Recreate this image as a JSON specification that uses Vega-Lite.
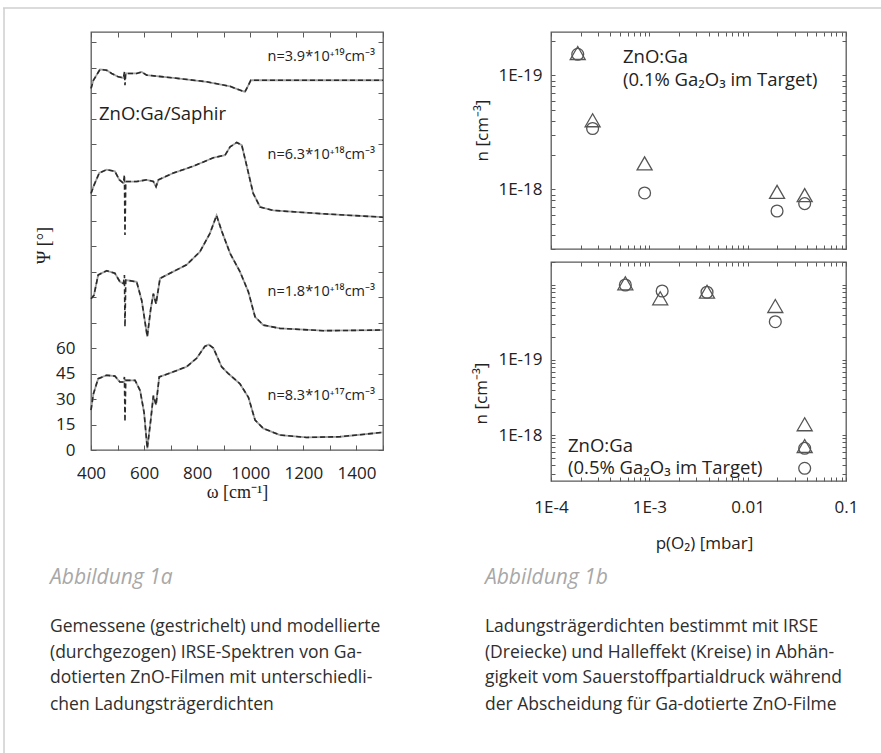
{
  "$schema": "https://vega.github.io/schema/vega-lite/v6.json",
  "autosize": {"type": "none"},
  "padding": {"left": 91, "top": 32, "right": 790, "bottom": 721},
  "background": "white",
  "config": {
    "view": {"stroke": "#5a5a5a", "strokeWidth": 1.3},
    "axis": {"domain": false, "grid": false, "tickColor": "#5a5a5a", "tickWidth": 1, "labelFont": "Open Sans", "labelFontSize": 17, "labelColor": "#222", "labelFlush": false, "titleFont": "Open Sans", "titleFontSize": 17, "titleFontWeight": "normal", "titleColor": "#222"},
    "text": {"font": "Open Sans", "color": "#222"}
  },
  "datasets": {
    "spec": [
      {"c": 1, "w": 400, "p": 212.7}, {"c": 1, "w": 409, "p": 217.6}, {"c": 1, "w": 434, "p": 224}, {"c": 1, "w": 459, "p": 223.5}, {"c": 1, "w": 478, "p": 221.6}, {"c": 1, "w": 503, "p": 219.6}, {"c": 1, "w": 522, "p": 219}, {"c": 1, "w": 526, "p": 222.5, "s": 1}, {"c": 1, "w": 528, "p": 214.7, "s": 1}, {"c": 1, "w": 531, "p": 221.6}, {"c": 1, "w": 572, "p": 221.6}, {"c": 1, "w": 591, "p": 222.5}, {"c": 1, "w": 610, "p": 220.6}, {"c": 1, "w": 710, "p": 219}, {"c": 1, "w": 836, "p": 216.7}, {"c": 1, "w": 924, "p": 214}, {"c": 1, "w": 961, "p": 211.8}, {"c": 1, "w": 980, "p": 210.8}, {"c": 1, "w": 993, "p": 214.7}, {"c": 1, "w": 1002, "p": 217.6}, {"c": 1, "w": 1087, "p": 217.6}, {"c": 1, "w": 1500, "p": 217.6},
      {"c": 2, "w": 400, "p": 151}, {"c": 2, "w": 409, "p": 155}, {"c": 2, "w": 431, "p": 163}, {"c": 2, "w": 459, "p": 165}, {"c": 2, "w": 490, "p": 164}, {"c": 2, "w": 507, "p": 159}, {"c": 2, "w": 522, "p": 157}, {"c": 2, "w": 526, "p": 162, "s": 1}, {"c": 2, "w": 528, "p": 126.5, "s": 1}, {"c": 2, "w": 531, "p": 158}, {"c": 2, "w": 572, "p": 158}, {"c": 2, "w": 610, "p": 159}, {"c": 2, "w": 635, "p": 158}, {"c": 2, "w": 645, "p": 155}, {"c": 2, "w": 654, "p": 159}, {"c": 2, "w": 710, "p": 163}, {"c": 2, "w": 785, "p": 167}, {"c": 2, "w": 861, "p": 172}, {"c": 2, "w": 905, "p": 173.5}, {"c": 2, "w": 924, "p": 178.4}, {"c": 2, "w": 949, "p": 181}, {"c": 2, "w": 968, "p": 179.4}, {"c": 2, "w": 987, "p": 167}, {"c": 2, "w": 1011, "p": 151}, {"c": 2, "w": 1037, "p": 143}, {"c": 2, "w": 1087, "p": 141}, {"c": 2, "w": 1275, "p": 139}, {"c": 2, "w": 1500, "p": 137},
      {"c": 3, "w": 400, "p": 89}, {"c": 3, "w": 411, "p": 91}, {"c": 3, "w": 427, "p": 103}, {"c": 3, "w": 459, "p": 105.5}, {"c": 3, "w": 490, "p": 104}, {"c": 3, "w": 509, "p": 99}, {"c": 3, "w": 522, "p": 98}, {"c": 3, "w": 526, "p": 103, "s": 1}, {"c": 3, "w": 528, "p": 72.5, "s": 1}, {"c": 3, "w": 531, "p": 100}, {"c": 3, "w": 572, "p": 99}, {"c": 3, "w": 591, "p": 88}, {"c": 3, "w": 612, "p": 66.7}, {"c": 3, "w": 625, "p": 83}, {"c": 3, "w": 635, "p": 92}, {"c": 3, "w": 645, "p": 86}, {"c": 3, "w": 660, "p": 101}, {"c": 3, "w": 710, "p": 105}, {"c": 3, "w": 760, "p": 109}, {"c": 3, "w": 810, "p": 116.6}, {"c": 3, "w": 848, "p": 127.5}, {"c": 3, "w": 873, "p": 138}, {"c": 3, "w": 892, "p": 129}, {"c": 3, "w": 924, "p": 115.7}, {"c": 3, "w": 961, "p": 105}, {"c": 3, "w": 993, "p": 93}, {"c": 3, "w": 1018, "p": 78.4}, {"c": 3, "w": 1049, "p": 73.5}, {"c": 3, "w": 1112, "p": 71.6}, {"c": 3, "w": 1275, "p": 70.2}, {"c": 3, "w": 1500, "p": 70.6},
      {"c": 4, "w": 400, "p": 23.5}, {"c": 4, "w": 409, "p": 33}, {"c": 4, "w": 427, "p": 42}, {"c": 4, "w": 459, "p": 44}, {"c": 4, "w": 490, "p": 43.5}, {"c": 4, "w": 509, "p": 40}, {"c": 4, "w": 522, "p": 40}, {"c": 4, "w": 526, "p": 43, "s": 1}, {"c": 4, "w": 528, "p": 16.7, "s": 1}, {"c": 4, "w": 531, "p": 41}, {"c": 4, "w": 566, "p": 41}, {"c": 4, "w": 585, "p": 35}, {"c": 4, "w": 600, "p": 22}, {"c": 4, "w": 612, "p": 1}, {"c": 4, "w": 625, "p": 17.6}, {"c": 4, "w": 635, "p": 32}, {"c": 4, "w": 645, "p": 26.5}, {"c": 4, "w": 657, "p": 43}, {"c": 4, "w": 710, "p": 46}, {"c": 4, "w": 760, "p": 49}, {"c": 4, "w": 798, "p": 54}, {"c": 4, "w": 829, "p": 61}, {"c": 4, "w": 844, "p": 62}, {"c": 4, "w": 861, "p": 60}, {"c": 4, "w": 892, "p": 49}, {"c": 4, "w": 917, "p": 45}, {"c": 4, "w": 961, "p": 39}, {"c": 4, "w": 993, "p": 31}, {"c": 4, "w": 1018, "p": 17.6}, {"c": 4, "w": 1049, "p": 12.7}, {"c": 4, "w": 1112, "p": 8.8}, {"c": 4, "w": 1213, "p": 7.4}, {"c": 4, "w": 1338, "p": 7.8}, {"c": 4, "w": 1500, "p": 10.4}
    ],
    "nlab": [
      {"w": 1470, "p": 231, "t": "n=3.9*10⁺¹⁹cm⁻³"},
      {"w": 1470, "p": 173.5, "t": "n=6.3*10⁺¹⁸cm⁻³"},
      {"w": 1470, "p": 93, "t": "n=1.8*10⁺¹⁸cm⁻³"},
      {"w": 1470, "p": 32, "t": "n=8.3*10⁺¹⁷cm⁻³"}
    ],
    "caphead": [
      {"w": 245.5, "p": -75.3, "t": "Abbildung 1a"},
      {"w": 1884, "p": -75.3, "t": "Abbildung 1b"}
    ],
    "capbody": [
      {"w": 245.5, "p": -104.0, "t": "Gemessene (gestrichelt) und modellierte"},
      {"w": 245.5, "p": -119.6, "t": "(durchgezogen) IRSE-Spektren von Ga-"},
      {"w": 245.5, "p": -134.4, "t": "dotierten ZnO-Filmen mit unterschiedli-"},
      {"w": 245.5, "p": -150.1, "t": "chen Ladungsträgerdichten"},
      {"w": 1884, "p": -104.0, "t": "Ladungsträgerdichten bestimmt mit IRSE"},
      {"w": 1884, "p": -119.6, "t": "(Dreiecke) und Halleffekt (Kreise) in Abhän-"},
      {"w": 1884, "p": -134.4, "t": "gigkeit vom Sauerstoffpartialdruck während"},
      {"w": 1884, "p": -150.1, "t": "der Abscheidung für Ga-dotierte ZnO-Filme"}
    ],
    "frame": [
      {"w1": 68.5, "w2": 3376, "p1": 260.1, "p2": 260.1},
      {"w1": 72.3, "w2": 72.3, "p1": 260.1, "p2": -178.3}
    ],
    "n1": [
      {"m": "IRSE", "x": 0.000187, "n": 1.57e19}, {"m": "IRSE", "x": 0.000265, "n": 4.04e18}, {"m": "IRSE", "x": 0.000895, "n": 1.69e18}, {"m": "IRSE", "x": 0.0199, "n": 9.5e17}, {"m": "IRSE", "x": 0.038, "n": 8.9e17},
      {"m": "Hall", "x": 0.000187, "n": 1.53e19}, {"m": "Hall", "x": 0.000265, "n": 3.42e18}, {"m": "Hall", "x": 0.000895, "n": 9.3e17}, {"m": "Hall", "x": 0.0199, "n": 6.46e17}, {"m": "Hall", "x": 0.038, "n": 7.5e17}
    ],
    "n2": [
      {"m": "IRSE", "x": 0.00057, "n": 1.054e20}, {"m": "IRSE", "x": 0.00129, "n": 6.65e19}, {"m": "IRSE", "x": 0.00386, "n": 8.14e19}, {"m": "IRSE", "x": 0.0191, "n": 5.25e19}, {"m": "IRSE", "x": 0.038, "n": 1.39e18}, {"m": "IRSE", "x": 0.038, "n": 7.13e17},
      {"m": "Hall", "x": 0.00057, "n": 1.0e20}, {"m": "Hall", "x": 0.00135, "n": 8.32e19}, {"m": "Hall", "x": 0.00386, "n": 8.0e19}, {"m": "Hall", "x": 0.0191, "n": 3.24e19}, {"m": "Hall", "x": 0.038, "n": 6.65e17}, {"m": "Hall", "x": 0.038, "n": 3.6e17}
    ],
    "t1": [
      {"x": 0.00054, "n": 1.44e19, "t": "ZnO:Ga"},
      {"x": 0.00054, "n": 9.1e18, "t": "(0.1% Ga₂O₃ im Target)"}
    ],
    "t2": [
      {"x": 0.000149, "n": 7.2e17, "t": "ZnO:Ga"},
      {"x": 0.000149, "n": 3.6e17, "t": "(0.5% Ga₂O₃ im Target)"}
    ]
  },
  "bounds": "flush",
  "spacing": 168,
  "hconcat": [
    {
      "width": 292,
      "height": 418,
      "resolve": {"axis": {"x": "independent", "y": "independent"}},
      "layer": [
        {
          "data": {"name": "spec"},
          "transform": [{"filter": "datum.s != 1"}],
          "mark": {"type": "line", "stroke": "#a0a0a0", "strokeWidth": 1.8},
          "encoding": {
            "x": {"field": "w", "type": "quantitative", "scale": {"domain": [400, 1500], "nice": false, "zero": false},
              "axis": {"orient": "bottom", "values": [400, 500, 600, 700, 800, 900, 1000, 1100, 1200, 1300, 1400, 1500], "format": "d", "labelExpr": "(datum.value % 200 == 0 && datum.value <= 1400) ? datum.label : ''", "tickSize": -5, "labelPadding": 20, "title": "ω [cm⁻¹]", "titleFont": "Liberation Serif", "titleFontSize": 18, "titleX": 146, "titleY": 42, "titleBaseline": "middle"}},
            "y": {"field": "p", "type": "quantitative", "scale": {"domain": [0, 246], "nice": false},
              "axis": {"orient": "left", "values": [0, 15, 30, 45, 60, 75, 90, 105, 120, 135, 150, 165, 180, 195, 210, 225, 240], "labelExpr": "datum.value <= 60 ? datum.label : ''", "tickSize": -5, "labelPadding": 21, "title": "Ψ [°]", "titleFont": "Liberation Serif", "titleFontSize": 18, "titleAngle": 270, "titleX": -47, "titleY": 213, "titleBaseline": "middle"}},
            "detail": {"field": "c"}
          }
        },
        {
          "data": {"name": "spec"},
          "mark": {"type": "line", "stroke": "#2a2a2a", "strokeWidth": 1.6, "strokeDash": [5, 3]},
          "encoding": {
            "x": {"field": "w", "type": "quantitative", "axis": {"orient": "top", "values": [400, 500, 600, 700, 800, 900, 1000, 1100, 1200, 1300, 1400, 1500], "labels": false, "tickSize": -5, "title": null}},
            "y": {"field": "p", "type": "quantitative", "axis": {"orient": "right", "values": [0, 15, 30, 45, 60, 75, 90, 105, 120, 135, 150, 165, 180, 195, 210, 225, 240], "labels": false, "tickSize": -5, "title": null}},
            "detail": {"field": "c"}
          }
        },
        {
          "data": {"name": "nlab"},
          "mark": {"type": "text", "align": "right", "baseline": "middle", "fontSize": 14.5},
          "encoding": {
            "x": {"field": "w", "type": "quantitative", "axis": null},
            "y": {"field": "p", "type": "quantitative", "axis": null},
            "text": {"field": "t"}
          }
        },
        {
          "data": {"values": [{"w": 430, "p": 198, "t": "ZnO:Ga/Saphir"}]},
          "mark": {"type": "text", "align": "left", "baseline": "middle", "fontSize": 18.5},
          "encoding": {
            "x": {"field": "w", "type": "quantitative", "axis": null},
            "y": {"field": "p", "type": "quantitative", "axis": null},
            "text": {"field": "t"}
          }
        },
        {
          "data": {"name": "caphead"},
          "mark": {"type": "text", "align": "left", "baseline": "middle", "fontSize": 21, "fontStyle": "italic", "color": "#a8a8a8"},
          "encoding": {
            "x": {"field": "w", "type": "quantitative", "axis": null},
            "y": {"field": "p", "type": "quantitative", "axis": null},
            "text": {"field": "t"}
          }
        },
        {
          "data": {"name": "capbody"},
          "mark": {"type": "text", "align": "left", "baseline": "middle", "fontSize": 17.5, "color": "#2e2e2e"},
          "encoding": {
            "x": {"field": "w", "type": "quantitative", "axis": null},
            "y": {"field": "p", "type": "quantitative", "axis": null},
            "text": {"field": "t"}
          }
        },
        {
          "data": {"name": "frame"},
          "mark": {"type": "rule", "stroke": "#cfcfcf", "strokeWidth": 1.5},
          "encoding": {
            "x": {"field": "w1", "type": "quantitative", "axis": null},
            "x2": {"field": "w2"},
            "y": {"field": "p1", "type": "quantitative", "axis": null},
            "y2": {"field": "p2"}
          }
        }
      ]
    },
    {
      "bounds": "flush",
      "spacing": 13,
      "vconcat": [
        {
          "width": 295,
          "height": 217,
          "resolve": {"axis": {"x": "independent", "y": "independent"}},
          "layer": [
            {
              "data": {"name": "n1"},
              "mark": {"type": "point", "filled": false, "stroke": "#555", "strokeWidth": 1.3, "opacity": 1},
              "encoding": {
                "x": {"field": "x", "type": "quantitative", "scale": {"type": "log", "domain": [0.0001, 0.1], "nice": false},
                  "axis": {"orient": "bottom", "values": [0.0001, 0.0002, 0.0003, 0.0004, 0.0005, 0.0006, 0.0007, 0.0008, 0.0009, 0.001, 0.002, 0.003, 0.004, 0.005, 0.006, 0.007, 0.008, 0.009, 0.01, 0.02, 0.03, 0.04, 0.05, 0.06, 0.07, 0.08, 0.09, 0.1], "labels": false, "tickSize": -4, "title": null}},
                "y": {"field": "n", "type": "quantitative", "scale": {"type": "log", "domain": [3e17, 2.4e19], "nice": false},
                  "axis": {"orient": "left", "values": [3e17, 4e17, 5e17, 6e17, 7e17, 8e17, 9e17, 1e18, 2e18, 3e18, 4e18, 5e18, 6e18, 7e18, 8e18, 9e18, 1e19, 2e19], "labelExpr": "abs(log(datum.value)/LN10 - 19) < 0.001 ? '1E-19' : (abs(log(datum.value)/LN10 - 18) < 0.001 ? '1E-18' : '')", "tickSize": -4, "labelPadding": 13, "title": "n [cm⁻³]", "titleAngle": 270, "titleX": -69, "titleY": 98, "titleBaseline": "middle"}},
                "shape": {"field": "m", "type": "nominal", "scale": {"domain": ["IRSE", "Hall"], "range": ["triangle-up", "circle"]}, "legend": null},
                "size": {"field": "m", "type": "nominal", "scale": {"domain": ["IRSE", "Hall"], "range": [225, 140]}, "legend": null}
              }
            },
            {
              "data": {"name": "t1"},
              "mark": {"type": "text", "align": "left", "baseline": "middle", "fontSize": 18.5},
              "encoding": {
                "x": {"field": "x", "type": "quantitative", "axis": {"orient": "top", "values": [0.0001, 0.0002, 0.0003, 0.0004, 0.0005, 0.0006, 0.0007, 0.0008, 0.0009, 0.001, 0.002, 0.003, 0.004, 0.005, 0.006, 0.007, 0.008, 0.009, 0.01, 0.02, 0.03, 0.04, 0.05, 0.06, 0.07, 0.08, 0.09, 0.1], "labels": false, "tickSize": -4, "title": null}},
                "y": {"field": "n", "type": "quantitative", "axis": {"orient": "right", "values": [3e17, 4e17, 5e17, 6e17, 7e17, 8e17, 9e17, 1e18, 2e18, 3e18, 4e18, 5e18, 6e18, 7e18, 8e18, 9e18, 1e19, 2e19], "labels": false, "tickSize": -4, "title": null}},
                "text": {"field": "t"}
              }
            }
          ]
        },
        {
          "width": 295,
          "height": 219,
          "resolve": {"axis": {"x": "independent", "y": "independent"}},
          "layer": [
            {
              "data": {"name": "n2"},
              "mark": {"type": "point", "filled": false, "stroke": "#555", "strokeWidth": 1.3, "opacity": 1},
              "encoding": {
                "x": {"field": "x", "type": "quantitative", "scale": {"type": "log", "domain": [0.0001, 0.1], "nice": false},
                  "axis": {"orient": "bottom", "values": [0.0001, 0.0002, 0.0003, 0.0004, 0.0005, 0.0006, 0.0007, 0.0008, 0.0009, 0.001, 0.002, 0.003, 0.004, 0.005, 0.006, 0.007, 0.008, 0.009, 0.01, 0.02, 0.03, 0.04, 0.05, 0.06, 0.07, 0.08, 0.09, 0.1], "labelExpr": "abs(log(datum.value)/LN10 - round(log(datum.value)/LN10)) < 0.001 ? (datum.value < 0.0005 ? '1E-4' : (datum.value < 0.005 ? '1E-3' : (datum.value < 0.05 ? '0.01' : '0.1'))) : ''", "tickSize": -4, "labelPadding": 22, "title": "p(O₂) [mbar]", "titleX": 153, "titleY": 62, "titleBaseline": "middle"}},
                "y": {"field": "n", "type": "quantitative", "scale": {"type": "log", "domain": [2.436e17, 2.026e20], "nice": false},
                  "axis": {"orient": "left", "values": [3e17, 4e17, 5e17, 6e17, 7e17, 8e17, 9e17, 1e18, 2e18, 3e18, 4e18, 5e18, 6e18, 7e18, 8e18, 9e18, 1e19, 2e19, 3e19, 4e19, 5e19, 6e19, 7e19, 8e19, 9e19, 1e20, 2e20], "labelExpr": "abs(log(datum.value)/LN10 - 19) < 0.001 ? '1E-19' : (abs(log(datum.value)/LN10 - 18) < 0.001 ? '1E-18' : '')", "tickSize": -4, "labelPadding": 13, "title": "n [cm⁻³]", "titleAngle": 270, "titleX": -70, "titleY": 131, "titleBaseline": "middle"}},
                "shape": {"field": "m", "type": "nominal", "scale": {"domain": ["IRSE", "Hall"], "range": ["triangle-up", "circle"]}, "legend": null},
                "size": {"field": "m", "type": "nominal", "scale": {"domain": ["IRSE", "Hall"], "range": [225, 140]}, "legend": null}
              }
            },
            {
              "data": {"name": "t2"},
              "mark": {"type": "text", "align": "left", "baseline": "middle", "fontSize": 18.5},
              "encoding": {
                "x": {"field": "x", "type": "quantitative", "axis": {"orient": "top", "values": [0.0001, 0.0002, 0.0003, 0.0004, 0.0005, 0.0006, 0.0007, 0.0008, 0.0009, 0.001, 0.002, 0.003, 0.004, 0.005, 0.006, 0.007, 0.008, 0.009, 0.01, 0.02, 0.03, 0.04, 0.05, 0.06, 0.07, 0.08, 0.09, 0.1], "labels": false, "tickSize": -4, "title": null}},
                "y": {"field": "n", "type": "quantitative", "axis": {"orient": "right", "values": [3e17, 4e17, 5e17, 6e17, 7e17, 8e17, 9e17, 1e18, 2e18, 3e18, 4e18, 5e18, 6e18, 7e18, 8e18, 9e18, 1e19, 2e19, 3e19, 4e19, 5e19, 6e19, 7e19, 8e19, 9e19, 1e20, 2e20], "labels": false, "tickSize": -4, "title": null}},
                "text": {"field": "t"}
              }
            }
          ]
        }
      ]
    }
  ]
}
